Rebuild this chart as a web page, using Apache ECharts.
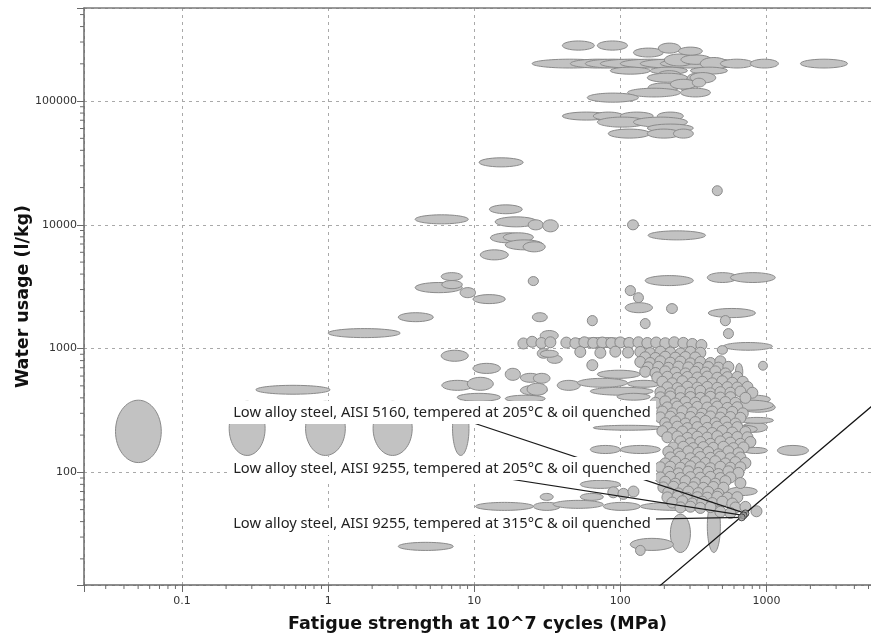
<!DOCTYPE html>
<html><head><meta charset="utf-8">
<script src="https://cdn.jsdelivr.net/npm/echarts@6/dist/echarts.min.js"></script>
<style>html,body{margin:0;padding:0;background:#fff}#c{width:871px;height:639px}</style>
</head><body><div id="c"></div>
<script>
// ---------- axis ranges & tick labels ----------
const xAxisMin = 0.0213, xAxisMax = 5200;
const yAxisMin = 12.3, yAxisMax = 565000;
const xTickLabels = ['0.1', '1', '10', '100', '1000'];
const yTickLabels = ['100', '1000', '10000', '100000'];
const xMinorTicks = [0.03,0.04,0.05,0.06,0.07,0.08,0.09,0.2,0.3,0.4,0.5,0.6,0.7,0.8,0.9,2,3,4,5,6,7,8,9,20,30,40,50,60,70,80,90,200,300,400,500,600,700,800,900,2000,3000,4000,5000];
const yMinorTicks = [20,30,40,50,60,70,80,90,200,300,400,500,600,700,800,900,2000,3000,4000,5000,6000,7000,8000,9000,20000,30000,40000,50000,60000,70000,80000,90000,200000,300000,400000,500000];

// ---------- materials: [fatigue min, fatigue max, water min, water max] ----------
const rangesLeft = [
  [0.035, 0.072, 120, 383],
  [0.21, 0.37, 137, 375],
  [0.70, 1.31, 137, 375],
  [2.03, 3.76, 137, 375],
  [7.1, 9.2, 137, 375],
  [0.32, 1.03, 428, 505],
  [1.0, 3.11, 1227, 1451],
  [3.02, 5.24, 1650, 1950],
  [3.94, 8.28, 2830, 3420],
  [5.94, 8.28, 3550, 4110],
  [6.0, 8.28, 3050, 3550],
  [8.0, 10.2, 2580, 3110],
  [9.8, 16.3, 2310, 2730],
  [5.94, 9.1, 790, 970],
  [9.8, 15.1, 630, 760],
  [6.0, 9.8, 460, 554],
  [8.96, 13.5, 460, 586],
  [7.65, 15.1, 375, 435],
  [3.02, 7.18, 23.4, 27.2]
];
const rangesMid = [
  [10.8, 21.6, 29400, 34800],
  [12.7, 21.3, 12300, 14500],
  [3.94, 9.1, 10190, 12050],
  [13.9, 27, 9630, 11600],
  [23.4, 29.7, 9110, 10980],
  [29.4, 37.6, 8780, 10980],
  [12.9, 23, 7150, 8620],
  [15.8, 25.4, 7300, 8620],
  [16.3, 29.7, 6280, 7560],
  [21.6, 30.6, 6050, 7290],
  [11.0, 17.1, 5210, 6280],
  [23.4, 27.5, 3230, 3820],
  [25, 31.6, 1650, 1950],
  [27, 33, 836, 1000],
  [31.6, 40, 760, 885],
  [28.3, 37.6, 1160, 1400],
  [28.3, 37.6, 851, 970],
  [20.7, 28.3, 534, 631],
  [20.7, 31.6, 420, 505],
  [16.3, 20.7, 554, 693],
  [25.4, 33, 525, 631],
  [23, 31.6, 420, 525],
  [37, 53.2, 460, 554],
  [16.3, 30.6, 370, 420],
  [28.3, 34.7, 59.4, 67.6],
  [10.2, 25.4, 49.3, 57.2],
  [25.4, 38.8, 49.3, 57.2],
  [34.7, 76.5, 51.2, 59.4],
  [53.2, 76.5, 59.4, 67.6],
  [53.2, 100, 74.2, 86.2]
];
const rangesTop = [
  [40.1, 66.4, 258000, 306000],
  [69.6, 112, 258000, 306000],
  [24.9, 81.5, 185000, 218000],
  [45.5, 108, 185000, 218000],
  [57.6, 137, 185000, 218000],
  [73, 188, 185000, 218000],
  [100, 258, 185000, 218000],
  [137, 353, 185000, 218000],
  [188, 484, 185000, 218000],
  [200, 320, 192000, 240000],
  [260, 420, 198000, 236000],
  [353, 614, 185000, 218000],
  [353, 541, 180000, 225000],
  [484, 815, 185000, 218000],
  [777, 1208, 185000, 218000],
  [1710, 3590, 185000, 218000],
  [123, 197, 227000, 268000],
  [182, 258, 244000, 294000],
  [250, 364, 235000, 273000],
  [85.4, 160, 165000, 188000],
  [160, 288, 165000, 188000],
  [302, 541, 165000, 188000],
  [180, 260, 150000, 176000],
  [153, 288, 142000, 168000],
  [288, 394, 142000, 168000],
  [300, 450, 140000, 170000],
  [155, 250, 118000, 140000],
  [258, 337, 118000, 140000],
  [220, 330, 125000, 150000],
  [311, 383, 130000, 153000],
  [112, 258, 108000, 127000],
  [258, 414, 108000, 127000],
  [59.4, 133, 98000, 116000],
  [40.1, 85.4, 70200, 81500],
  [65.3, 105, 70200, 81500],
  [100, 168, 70200, 81500],
  [179, 270, 70200, 81500],
  [69.6, 153, 61600, 74200],
  [123, 288, 61600, 74200],
  [153, 316, 56100, 65200],
  [82.7, 160, 50200, 59400],
  [153, 258, 50200, 59400],
  [231, 316, 50200, 59400]
];
const rangesRight = [
  [426, 499, 17200, 20700],
  [112, 133, 9110, 10980],
  [155, 383, 7560, 8940],
  [148, 316, 3230, 3890],
  [394, 632, 3420, 4110],
  [567, 1150, 3420, 4110],
  [400, 841, 1780, 2110],
  [108, 127, 2680, 3230],
  [123, 144, 2350, 2830],
  [108, 166, 1950, 2350],
  [207, 246, 1920, 2310],
  [59.4, 69.6, 1530, 1850],
  [484, 567, 1530, 1850],
  [508, 595, 1205, 1451],
  [137, 160, 1450, 1750],
  [508, 1100, 970, 1120],
  [461, 541, 900, 1057],
  [883, 1016, 669, 790],
  [1190, 1940, 137, 165],
  [664, 1150, 306, 368],
  [689, 1016, 211, 254],
  [700, 1016, 142, 159],
  [541, 866, 65, 76],
  [614, 689, 554, 760],
  [40.7, 137, 1020, 1227],
  [69.6, 137, 575, 669],
  [50.8, 112, 487, 575],
  [112, 188, 487, 554],
  [62.3, 168, 420, 487],
  [95, 160, 383, 435],
  [664, 1065, 361, 420],
  [541, 1117, 318, 383],
  [664, 1117, 249, 278],
  [65.3, 197, 219, 240],
  [567, 866, 207, 240],
  [62.3, 100, 142, 165],
  [100, 188, 142, 165],
  [76.5, 137, 49.3, 57.2],
  [137, 433, 49.3, 57.2]
];
const rangesLow = [
  [220, 302, 22.5, 46],
  [394, 484, 22.5, 60],
  [117, 231, 23.4, 29.3],
  [127, 148, 21.3, 25.7]
];

// ---------- narrow-range materials: [fatigue, water] ----------
const narrowMaterials = [
  [21.7,1100],[24.9,1135],[28.8,1110],[33.2,1125],
  [42.7,1118],[49.2,1105],[56.7,1125],[65.3,1112],[75.3,1120],[86.8,1108],[100,1122],[115,1112],[133,1125],[153,1110],[176,1120],[203,1105],[234,1125],[270,1112],[311,1090],[359,1070],
  [53.2,940],[73,925],[92.4,945],[113,930],[137,940],[160,920],[188,945],[220,930],[258,915],[302,940],[353,925],
  [148,851],[174,840],[203,860],[238,845],[279,855],[326,848],
  [64.3,735],[137,780],[160,765],[188,790],[220,770],[258,785],[302,760],[353,780],[414,765],[484,790],
  [155,706],[182,712],[213,700],[250,715],[292,705],[342,698],[400,710],[469,702],[549,712],
  [148,650],[174,635],[203,655],[238,640],[279,630],[326,650],[383,640],[447,655],[524,630],
  [179,586],[210,592],[246,580],[288,590],[337,584],[394,594],[461,582],[541,588],[632,590],
  [194,540],[227,525],[266,545],[311,530],[364,540],[426,525],[499,545],[584,530],[689,540],
  [210,487],[246,480],[288,492],[337,484],[394,490],[461,482],[541,488],[632,485],[742,490],
  [188,445],[220,435],[258,450],[302,440],[353,455],[414,435],[484,445],[567,440],[664,450],[801,440],
  [188,404],[220,410],[258,398],[302,406],[353,400],[414,408],[484,402],[567,405],[718,400],
  [174,365],[203,375],[238,360],[279,370],[326,365],[383,375],[447,360],[524,370],[614,365],
  [210,335],[246,340],[288,332],[337,338],[394,334],[461,340],[541,332],[632,336],
  [194,310],[227,300],[266,312],[311,305],[364,298],[426,310],[499,302],[584,308],[689,300],
  [188,278],[220,282],[258,275],[302,280],[353,276],[414,283],[484,277],[567,280],[664,276],
  [203,250],[238,258],[279,248],[326,255],[383,260],[447,250],[524,256],[614,248],
  [210,231],[246,234],[288,228],[337,232],[394,229],[461,234],[541,230],[632,232],
  [194,215],[227,208],[266,214],[311,206],[364,212],[426,208],[499,216],[584,210],[718,212],
  [210,192],[246,195],[288,190],[337,194],[394,191],[461,196],[541,190],[632,193],[742,192],
  [258,178],[302,172],[353,176],[414,170],[484,178],[567,174],[664,170],[777,176],
  [231,159],[270,161],[316,157],[370,160],[433,158],[508,161],[595,157],[697,159],
  [213,147],[250,142],[292,148],[342,144],[400,146],[469,140],[549,148],[643,143],
  [220,132],[258,134],[302,130],[353,133],[414,131],[484,134],[567,130],[664,132],
  [203,118],[238,122],[279,117],[326,121],[383,119],[447,123],[524,118],[614,121],[718,119],
  [188,110],[220,111],[258,109],[302,112],[353,110],[414,108],[484,111],[567,109],[664,110],
  [213,101],[250,98],[292,102],[342,99],[400,101],[469,97],[549,102],[643,99],
  [188,91],[220,92],[258,90],[302,91.5],[353,90.5],[414,92],[484,90],[567,91],
  [203,84],[238,81],[279,85],[326,82],[383,84],[447,81],[524,85],[664,82],
  [197,75.6],[231,76.5],[270,74.8],[316,75.8],[370,75],[433,76.2],[508,75.2],
  [89.5,69],[105,67],[123,70],[213,69],[250,67.5],[292,70],[342,68],[400,69.5],[469,67],
  [210,62.8],[246,63.5],[288,62.2],[337,63],[394,62.5],[461,63.6],[541,62.4],[632,63],
  [227,57],[266,58.5],[311,56],[364,58],[426,56.5],[499,58],[584,56],
  [258,52.1],[302,52.8],[353,51.6],[414,52.4],[614,52],[718,52.6],
  [484,48],[567,47],[855,48.5]
];

// ---------- annotations ----------
const annotationLabels = [
  'Low alloy steel, AISI 5160, tempered at 205°C & oil quenched',
  'Low alloy steel, AISI 9255, tempered at 205°C & oil quenched',
  'Low alloy steel, AISI 9255, tempered at 315°C & oil quenched'
];
const annotationTargets = [[718, 46.6], [697, 44.9], [677, 43.3]];
const guideLine = [[100, 6.5], [10000, 650]];

// ---------- layout / style (not data) ----------
const annotationBoxes = [
  { x: 228, y: 401, w: 428, h: 23 },
  { x: 228, y: 457, w: 428, h: 23 },
  { x: 228, y: 511, w: 428, h: 24 }
];
const FILL = '#c2c2c2', STROKE = '#8a8a8a';
const allRanges = [].concat(rangesLeft, rangesMid, rangesTop, rangesRight, rangesLow);

function fmt(v) { return String(parseFloat(Number(v).toPrecision(6))); }

const chart = echarts.init(document.getElementById('c'), null, { renderer: 'canvas' });
const axisFont = 'DejaVu Sans';
chart.setOption({
  animation: false,
  backgroundColor: '#ffffff',
  grid: { left: 84, right: 0, top: 8, bottom: 54, containLabel: false, outerBoundsMode: 'none' },
  xAxis: [{
    type: 'log', logBase: 10, min: xAxisMin, max: xAxisMax,
    name: 'Fatigue strength at 10^7 cycles (MPa)', nameLocation: 'middle', nameGap: 30, nameMoveOverlap: false,
    nameTextStyle: { fontFamily: axisFont, fontWeight: 'bold', fontSize: 17.5, color: '#111' },
    axisLine: { show: true, lineStyle: { color: '#6a6a6a', width: 1.5 } },
    axisTick: { show: true, length: 7, lineStyle: { color: '#6a6a6a' } },
    axisLabel: { margin: 11, fontFamily: axisFont, fontSize: 11, color: '#333',
      formatter: v => { const s = fmt(v); return xTickLabels.includes(s) ? s : ''; } },
    splitLine: { show: true, lineStyle: { color: '#a9a9a9', type: [3, 4], width: 1 } }
  }, {
    type: 'log', logBase: 10, min: xAxisMin, max: xAxisMax, position: 'top',
    axisLine: { show: true, lineStyle: { color: '#7a7a7a', width: 1.5 } },
    axisTick: { show: false }, axisLabel: { show: false }, splitLine: { show: false }
  }],
  yAxis: {
    type: 'log', logBase: 10, min: yAxisMin, max: yAxisMax,
    name: 'Water usage (l/kg)', nameLocation: 'middle', nameGap: 52, nameRotate: 90, nameMoveOverlap: false,
    nameTextStyle: { fontFamily: axisFont, fontWeight: 'bold', fontSize: 17.5, color: '#111' },
    axisLine: { show: true, lineStyle: { color: '#6a6a6a', width: 1.5 } },
    axisTick: { show: true, length: 7, lineStyle: { color: '#6a6a6a' } },
    axisLabel: { margin: 7, fontFamily: axisFont, fontSize: 11, color: '#333',
      formatter: v => { const s = fmt(v); return yTickLabels.includes(s) ? s : ''; } },
    splitLine: { show: true, lineStyle: { color: '#a9a9a9', type: [3, 4], width: 1 } }
  },
  series: [
    { // materials with property ranges: ellipses
      type: 'custom', name: 'materials', coordinateSystem: 'cartesian2d', clip: true, silent: true, z: 2,
      data: allRanges, encode: { x: [0, 1], y: [2, 3] },
      renderItem: function (params, api) {
        const p1 = api.coord([api.value(0), api.value(2)]);
        const p2 = api.coord([api.value(1), api.value(3)]);
        return {
          type: 'ellipse',
          shape: { cx: (p1[0] + p2[0]) / 2, cy: (p1[1] + p2[1]) / 2,
                   rx: Math.abs(p2[0] - p1[0]) / 2, ry: Math.abs(p1[1] - p2[1]) / 2 },
          style: { fill: FILL, stroke: STROKE, lineWidth: 1 }
        };
      }
    },
    { // narrow-range materials
      type: 'scatter', name: 'narrow', data: narrowMaterials, symbol: 'circle', symbolSize: 11,
      silent: true, z: 2,
      itemStyle: { color: FILL, borderColor: STROKE, borderWidth: 1, opacity: 1 }
    },
    { // guide line
      type: 'line', data: guideLine, showSymbol: false, symbol: 'none', clip: true, silent: true, z: 3,
      lineStyle: { color: '#111', width: 1.2 }
    },
    { // annotation leader lines
      type: 'custom', coordinateSystem: 'cartesian2d', clip: false, silent: true, z: 4,
      data: annotationTargets, encode: { x: 0, y: 1 },
      renderItem: function (params, api) {
        const t = api.coord([api.value(0), api.value(1)]);
        const b = annotationBoxes[params.dataIndex];
        return { type: 'line', shape: { x1: b.x + b.w / 2, y1: b.y + b.h / 2, x2: t[0], y2: t[1] },
                 style: { stroke: '#1a1a1a', lineWidth: 1.2 } };
      }
    },
    { // target markers
      type: 'scatter', data: annotationTargets, symbol: 'circle', symbolSize: 7, silent: true, z: 4,
      itemStyle: { color: '#9a9a9a', borderColor: '#333', borderWidth: 1 }
    },
    { // annotation boxes
      type: 'custom', coordinateSystem: 'cartesian2d', clip: false, silent: true, z: 5,
      data: annotationTargets, encode: { x: 0, y: 1 },
      renderItem: function (params, api) {
        const b = annotationBoxes[params.dataIndex];
        return { type: 'group', children: [
          { type: 'rect', shape: { x: b.x, y: b.y, width: b.w, height: b.h }, style: { fill: '#ffffff' } },
          { type: 'text', x: b.x + b.w / 2, y: b.y + b.h / 2 + 0.5,
            style: { text: annotationLabels[params.dataIndex], fill: '#222', align: 'center', verticalAlign: 'middle',
                     fontFamily: 'Noto Sans', fontSize: 14.7 } }
        ] };
      }
    },
    { // x minor ticks
      type: 'custom', coordinateSystem: 'cartesian2d', clip: false, silent: true, z: 6,
      data: xMinorTicks.map(v => [v, yAxisMin]), encode: { x: 0, y: 1 },
      renderItem: function (params, api) {
        const p = api.coord([api.value(0), api.value(1)]);
        return { type: 'line', shape: { x1: p[0], y1: p[1], x2: p[0], y2: p[1] + 4 },
                 style: { stroke: '#6a6a6a', lineWidth: 1 } };
      }
    },
    { // y minor ticks
      type: 'custom', coordinateSystem: 'cartesian2d', clip: false, silent: true, z: 6,
      data: yMinorTicks.map(v => [xAxisMin, v]), encode: { x: 0, y: 1 },
      renderItem: function (params, api) {
        const p = api.coord([api.value(0), api.value(1)]);
        return { type: 'line', shape: { x1: p[0] - 4, y1: p[1], x2: p[0], y2: p[1] },
                 style: { stroke: '#6a6a6a', lineWidth: 1 } };
      }
    }
  ]
});
</script></body></html>
